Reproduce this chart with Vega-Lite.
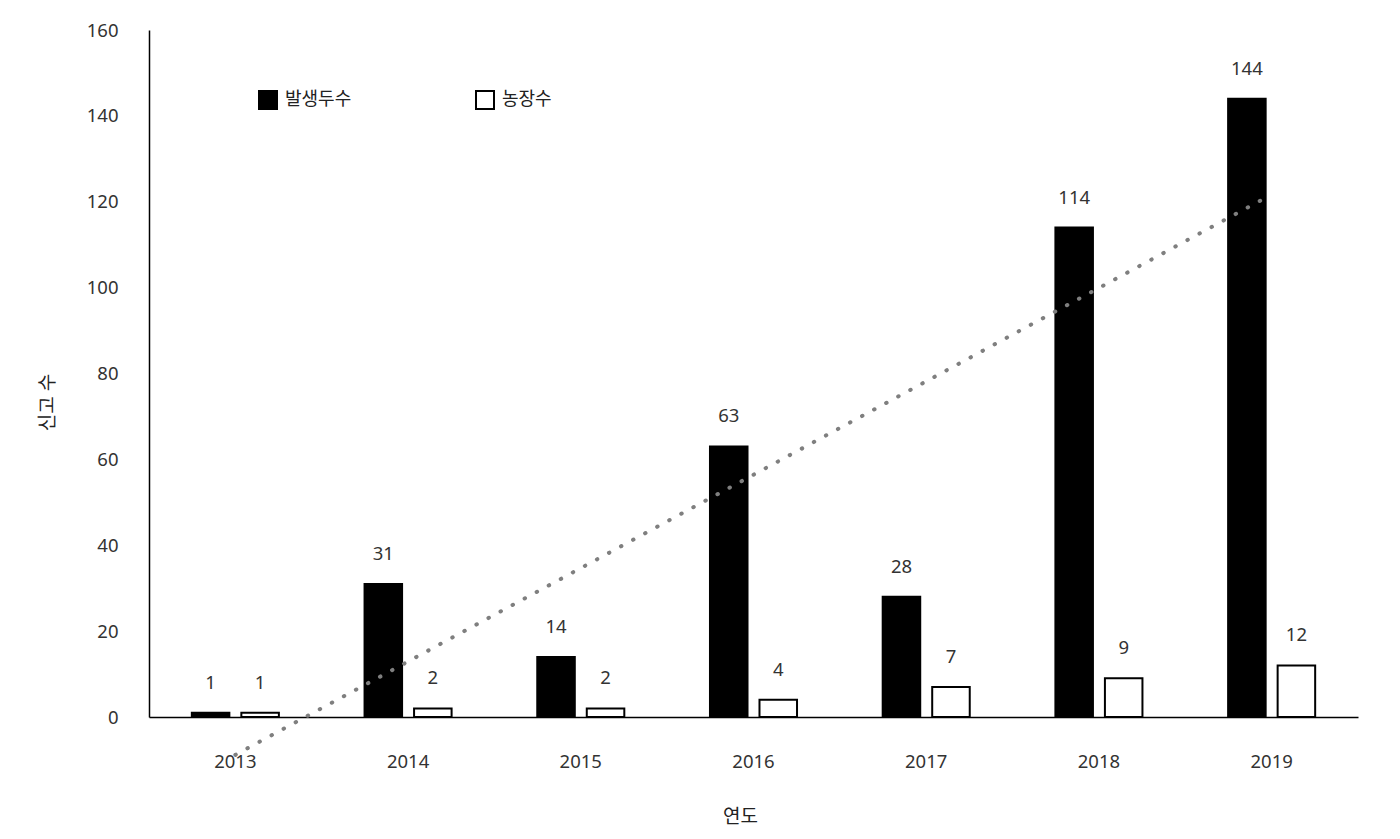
{
  "$schema": "https://vega.github.io/schema/vega-lite/v6.json",
  "width": 1209,
  "height": 687,
  "autosize": {"type": "none"},
  "padding": {"left": 149, "top": 30, "right": 42, "bottom": 122},
  "background": "white",
  "config": {
    "font": "Noto Sans, Noto Sans CJK KR",
    "view": {"stroke": null}
  },
  "data": {
    "values": [
      {"year": 2013, "series": "발생두수", "value": 1},
      {"year": 2014, "series": "발생두수", "value": 31},
      {"year": 2015, "series": "발생두수", "value": 14},
      {"year": 2016, "series": "발생두수", "value": 63},
      {"year": 2017, "series": "발생두수", "value": 28},
      {"year": 2018, "series": "발생두수", "value": 114},
      {"year": 2019, "series": "발생두수", "value": 144},
      {"year": 2013, "series": "농장수", "value": 1},
      {"year": 2014, "series": "농장수", "value": 2},
      {"year": 2015, "series": "농장수", "value": 2},
      {"year": 2016, "series": "농장수", "value": 4},
      {"year": 2017, "series": "농장수", "value": 7},
      {"year": 2018, "series": "농장수", "value": 9},
      {"year": 2019, "series": "농장수", "value": 12}
    ]
  },
  "layer": [
    {
      "mark": {"type": "bar", "stroke": "#000", "strokeWidth": 2},
      "encoding": {
        "x": {
          "field": "year", "type": "ordinal",
          "scale": {"type": "band", "domain": [2013, 2014, 2015, 2016, 2017, 2018, 2019], "paddingInner": 0.496, "paddingOuter": 0.248},
          "axis": {
            "title": "연도", "titleFontSize": 19, "titleFontWeight": "normal", "titleColor": "#222",
            "titleX": 591, "titleY": 99, "titleBaseline": "middle", "titleAlign": "center",
            "labelFontSize": 18.5, "labelColor": "#333", "labelAngle": 0, "labelPadding": 35, "labelDx": -10,
            "ticks": false, "domainColor": "#000", "domainWidth": 1.5, "grid": false
          }
        },
        "xOffset": {
          "field": "series", "type": "nominal",
          "scale": {"domain": ["발생두수", "농장수"], "paddingInner": 0.242, "paddingOuter": 0}
        },
        "y": {
          "field": "value", "type": "quantitative",
          "scale": {"domain": [0, 160], "nice": false},
          "axis": {
            "title": "신고 수", "titleFontSize": 19, "titleFontWeight": "normal", "titleColor": "#222",
            "titleX": -102, "titleY": 372, "titleBaseline": "middle", "titleAlign": "center", "titleAngle": -90,
            "values": [0, 20, 40, 60, 80, 100, 120, 140, 160],
            "labelFontSize": 18.5, "labelColor": "#333", "labelPadding": 31,
            "ticks": false, "domainColor": "#000", "domainWidth": 1.5, "grid": false
          }
        },
        "color": {
          "field": "series", "type": "nominal",
          "scale": {"domain": ["발생두수", "농장수"], "range": ["#000000", "#ffffff"]},
          "legend": {
            "title": null, "orient": "none", "direction": "horizontal", "columns": 2,
            "legendX": 109, "legendY": 60, "padding": 0,
            "symbolType": "square", "symbolSize": 324, "symbolStrokeColor": "#000", "symbolStrokeWidth": 2,
            "labelFontSize": 18, "labelColor": "#222", "labelOffset": 7, "columnPadding": 120
          }
        }
      }
    },
    {
      "mark": {"type": "text", "fontSize": 18.5, "color": "#333", "baseline": "middle", "dy": -30},
      "encoding": {
        "x": {"field": "year", "type": "ordinal"},
        "xOffset": {"field": "series", "type": "nominal"},
        "y": {"field": "value", "type": "quantitative"},
        "text": {"field": "value", "type": "quantitative"}
      }
    },
    {
      "transform": [
        {"filter": "datum.series === '발생두수'"},
        {"regression": "value", "on": "year", "method": "linear"}
      ],
      "mark": {"type": "line", "color": "#7f7f7f", "strokeWidth": 4, "strokeCap": "round", "strokeDash": [0.5, 13.2]},
      "encoding": {
        "x": {"field": "year", "type": "ordinal", "bandPosition": 0.5},
        "y": {"field": "value", "type": "quantitative"}
      }
    }
  ]
}
